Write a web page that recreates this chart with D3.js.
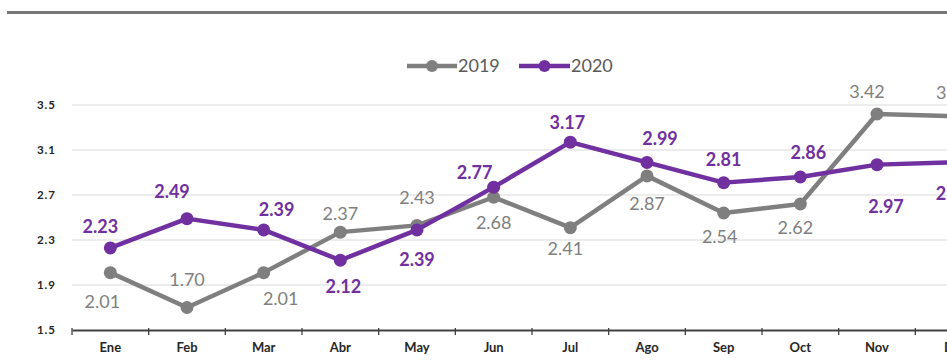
<!DOCTYPE html>
<html>
<head>
<meta charset="utf-8">
<script src="https://cdn.jsdelivr.net/npm/d3@7/dist/d3.min.js"></script>
<style>
  html, body { margin: 0; padding: 0; background: #fff; overflow: hidden; }
  svg { display: block; }
</style>
</head>
<body>
<svg id="chart" width="947" height="360"></svg>
<script>
// ---- Data ----
const months = ["Ene","Feb","Mar","Abr","May","Jun","Jul","Ago","Sep","Oct","Nov","Dic"];
const values2019 = [2.01, 1.70, 2.01, 2.37, 2.43, 2.68, 2.41, 2.87, 2.54, 2.62, 3.42, 3.40];
const values2020 = [2.23, 2.49, 2.39, 2.12, 2.39, 2.77, 3.17, 2.99, 2.81, 2.86, 2.97, 2.99];
const yTicks = [1.5, 1.9, 2.3, 2.7, 3.1, 3.5];
const seriesNames = ["2019", "2020"];

// ---- Label placement (offsets relative to point, px) ----
const labelDx2019 = [-8, 0, 17, 0, 0, 0, -5, 0, -4, -5, -10, 0];
const labelDy2019 = [29, -28, 26, -18, -28, 25, 21, 28, 24, 24, -22, -24];
const labelDx2020 = [-10, -15, 13, 3, 0, -19, -3, 13, 0, 8, 9, 0];
const labelDy2020 = [-21, -27, -20, 26, 30, -14, -19, -24, -23, -24, 42, 31];

const svg = d3.select("#chart");
const colors = { "2019": "#7f7f7f", "2020": "#7030a0" };
const labelColors = { "2019": "#808080", "2020": "#7030a0" };

// top rule
svg.append("line").attr("x1", 7).attr("x2", 947).attr("y1", 12.5).attr("y2", 12.5)
  .attr("stroke", "#777").attr("stroke-width", 3);

const plotLeft = 72, plotRight = 992, plotTop = 105, plotBottom = 330;
const x = d3.scaleBand().domain(months).range([plotLeft, plotRight]).padding(0);
const y = d3.scaleLinear().domain([1.5, 3.5]).range([plotBottom, plotTop]);

// gridlines
svg.append("g").selectAll("line").data(yTicks.filter(t => t !== 1.5)).join("line")
  .attr("x1", plotLeft).attr("x2", plotRight)
  .attr("y1", d => y(d)).attr("y2", d => y(d))
  .attr("stroke", "#d9d9d9").attr("stroke-width", 1);

// y tick labels
svg.append("g").selectAll("text").data(yTicks).join("text")
  .attr("x", 56).attr("y", d => y(d)).attr("dy", "0.35em")
  .attr("text-anchor", "end")
  .attr("font-family", "Lato, sans-serif").attr("font-weight", "bold")
  .attr("font-size", 11.5).attr("letter-spacing", "1px").attr("fill", "#262626")
  .text(d => d.toFixed(1));

// x axis
const xAxis = d3.axisBottom(x).tickSize(0).tickFormat(d => d);
const gx = svg.append("g").attr("transform", `translate(0,${plotBottom})`).call(xAxis);
gx.select(".domain").attr("stroke", "#404040").attr("stroke-width", 2);
gx.selectAll(".tick text")
  .attr("y", 22)
  .attr("dy", "0")
  .attr("font-family", "Lato, sans-serif").attr("font-weight", "bold")
  .attr("font-size", 13).attr("fill", "#262626");
// boundary tick marks
const boundaries = months.map(m => x(m)).concat([x(months[months.length-1]) + x.bandwidth()]);
svg.append("g").selectAll("line").data(boundaries).join("line")
  .attr("x1", d => d).attr("x2", d => d)
  .attr("y1", plotBottom - 2).attr("y2", plotBottom + 5)
  .attr("stroke", "#404040").attr("stroke-width", 1.3);

const cx = m => x(m) + x.bandwidth() / 2;
const line = d3.line().x((d, i) => cx(months[i])).y(d => y(d));

const series = [
  { name: "2019", values: values2019, dx: labelDx2019, dy: labelDy2019, weight: "normal" },
  { name: "2020", values: values2020, dx: labelDx2020, dy: labelDy2020, weight: "bold" }
];

series.forEach(s => {
  const g = svg.append("g");
  g.append("path").datum(s.values).attr("d", line)
    .attr("fill", "none").attr("stroke", colors[s.name])
    .attr("stroke-width", 4.5).attr("stroke-linejoin", "round");
  g.selectAll("circle").data(s.values).join("circle")
    .attr("cx", (d, i) => cx(months[i])).attr("cy", d => y(d)).attr("r", 6.5)
    .attr("fill", colors[s.name]);
});

series.forEach(s => {
  svg.append("g").selectAll("text").data(s.values).join("text")
    .attr("x", (d, i) => cx(months[i]) + s.dx[i])
    .attr("y", (d, i) => y(d) + s.dy[i])
    .attr("dy", "0.35em")
    .attr("text-anchor", "middle")
    .attr("font-family", "Lato, sans-serif")
    .attr("font-weight", s.weight)
    .attr("font-size", 18)
    .attr("fill", labelColors[s.name])
    .text(d => d.toFixed(2));
});

// legend
const legendItems = [
  { name: seriesNames[0], x1: 407, x2: 457 },
  { name: seriesNames[1], x1: 519, x2: 570 }
];
const lg = svg.append("g");
legendItems.forEach(it => {
  lg.append("line").attr("x1", it.x1).attr("x2", it.x2).attr("y1", 66).attr("y2", 66)
    .attr("stroke", colors[it.name]).attr("stroke-width", 4.5);
  lg.append("circle").attr("cx", (it.x1 + it.x2) / 2).attr("cy", 66).attr("r", 6)
    .attr("fill", colors[it.name]);
  lg.append("text").attr("x", it.x2 + 1).attr("y", 66).attr("dy", "0.35em")
    .attr("font-family", "Lato, sans-serif").attr("font-size", 18)
    .attr("fill", "#595959").text(it.name);
});
</script>
</body>
</html>
